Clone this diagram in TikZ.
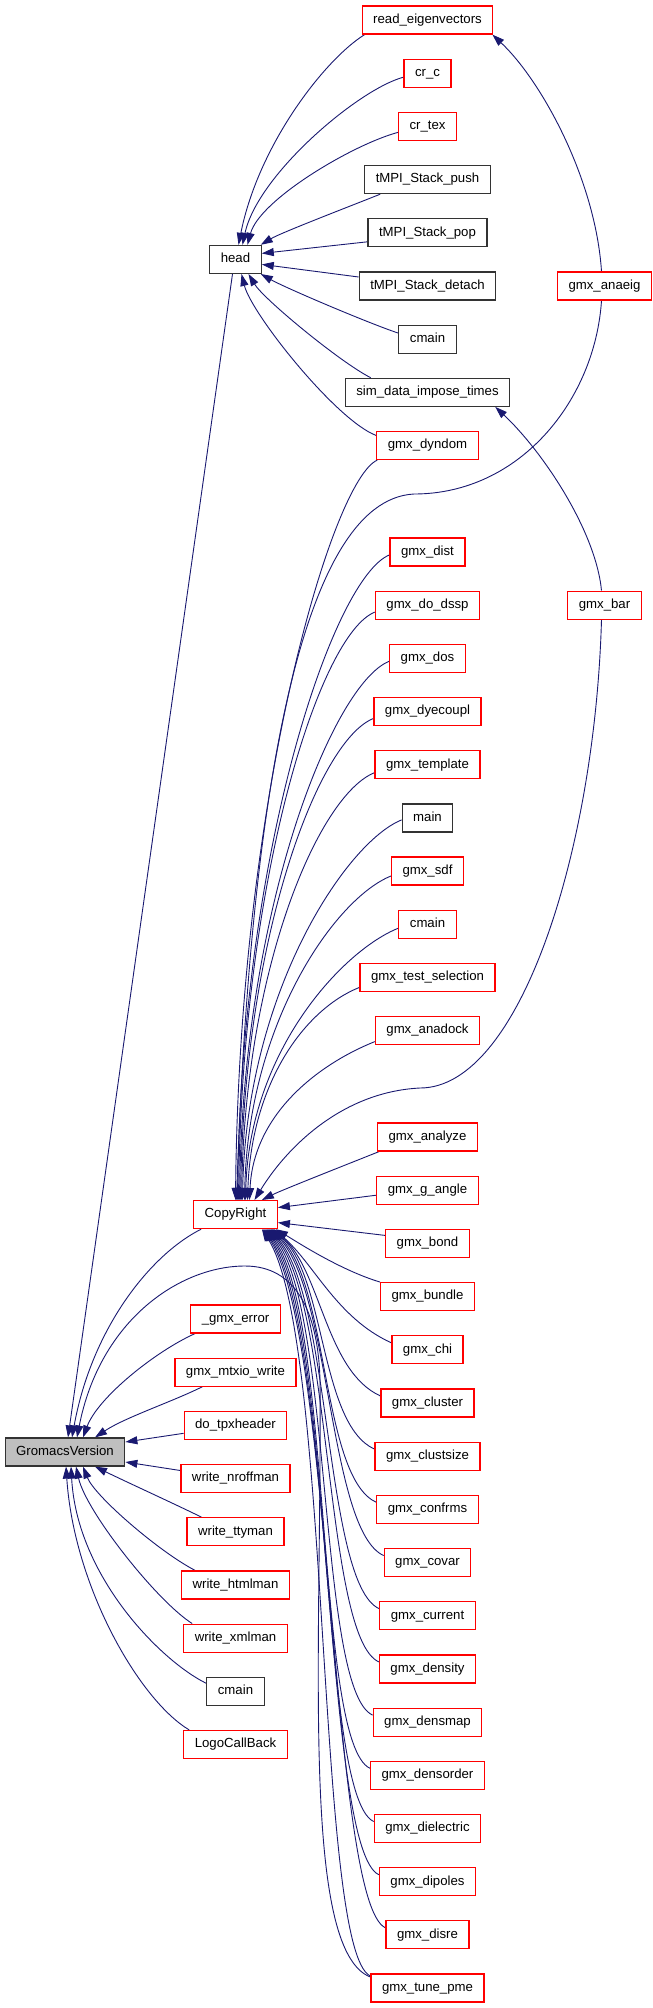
\documentclass[tikz,border=0pt]{standalone}
\usepackage{fontspec}
\setmainfont{Liberation Sans}
\usetikzlibrary{arrows.meta,calc}
\definecolor{edgeblue}{HTML}{191970}
\definecolor{gvfill}{HTML}{BFBFBF}
\pgfdeclarelayer{bg}
\pgfsetlayers{bg,main}
\tikzset{
  fn/.style={rectangle, draw, line width=1.2pt, minimum height=28pt, inner xsep=11pt, inner ysep=0pt, text height=9.4pt, text depth=2.8pt, fill=white},
  rn/.style={fn, draw=red},
  bn/.style={fn, draw=black!80},
  gn/.style={fn, draw=black!80, fill=gvfill},
  cedge/.style={draw=edgeblue, line width=0.9pt, {Triangle[length=12pt,width=8pt]}-}
}
\begin{document}
\begin{tikzpicture}[x=1pt, y=-1pt, font=\fontsize{13.2}{15}\selectfont]
\useasboundingbox (0,0) rectangle (653,2008);
% column 3
\node[rn] (re) at (427.5,20) {read\_eigenvectors};
\node[rn] (crc) at (427.5,73.2) {cr\_c};
\node[rn] (crtex) at (427.5,126.4) {cr\_tex};
\node[bn] (push) at (427.5,179.6) {tMPI\_Stack\_push};
\node[bn] (pop) at (427.5,232.8) {tMPI\_Stack\_pop};
\node[bn] (detach) at (427.5,286) {tMPI\_Stack\_detach};
\node[bn] (cmainA) at (427.5,339.1) {cmain};
\node[bn] (sim) at (427.5,392.3) {sim\_data\_impose\_times};
\node[rn] (dyndom) at (427.5,445.5) {gmx\_dyndom};
\node[rn] (dist) at (427.5,551.9) {gmx\_dist};
\node[rn] (dssp) at (427.5,605.1) {gmx\_do\_dssp};
\node[rn] (dos) at (427.5,658.3) {gmx\_dos};
\node[rn] (dye) at (427.5,711.5) {gmx\_dyecoupl};
\node[rn] (templ) at (427.5,764.7) {gmx\_template};
\node[bn] (mainn) at (427.5,817.9) {main};
\node[rn] (sdf) at (427.5,871) {gmx\_sdf};
\node[rn] (cmainB) at (427.5,924.2) {cmain};
\node[rn] (tsel) at (427.5,977.4) {gmx\_test\_selection};
\node[rn] (anadock) at (427.5,1030.6) {gmx\_anadock};
\node[rn] (analyze) at (427.5,1137) {gmx\_analyze};
\node[rn] (gangle) at (427.5,1190.2) {gmx\_g\_angle};
\node[rn] (bond) at (427.5,1243.4) {gmx\_bond};
\node[rn] (bundle) at (427.5,1296.6) {gmx\_bundle};
\node[rn] (chi) at (427.5,1349.8) {gmx\_chi};
\node[rn] (cluster) at (427.5,1402.9) {gmx\_cluster};
\node[rn] (clustsize) at (427.5,1456.1) {gmx\_clustsize};
\node[rn] (confrms) at (427.5,1509.3) {gmx\_confrms};
\node[rn] (covar) at (427.5,1562.5) {gmx\_covar};
\node[rn] (current) at (427.5,1615.7) {gmx\_current};
\node[rn] (density) at (427.5,1668.9) {gmx\_density};
\node[rn] (densmap) at (427.5,1722.1) {gmx\_densmap};
\node[rn] (densorder) at (427.5,1775.3) {gmx\_densorder};
\node[rn] (dielectric) at (427.5,1828.5) {gmx\_dielectric};
\node[rn] (dipoles) at (427.5,1881.7) {gmx\_dipoles};
\node[rn] (disre) at (427.5,1934.8) {gmx\_disre};
\node[rn] (tunepme) at (427.5,1988) {gmx\_tune\_pme};
% column 2
\node[bn] (head) at (235.5,259.4) {head};
\node[rn] (CR) at (235.5,1214.6) {CopyRight};
\node[rn] (gerr) at (235.5,1318.9) {\_gmx\_error};
\node[rn] (mtxio) at (235.5,1372.1) {gmx\_mtxio\_write};
\node[rn] (tpx) at (235.5,1425.3) {do\_tpxheader};
\node[rn] (nroff) at (235.5,1478.5) {write\_nroffman};
\node[rn] (tty) at (235.5,1531.7) {write\_ttyman};
\node[rn] (html) at (235.5,1584.9) {write\_htmlman};
\node[rn] (xml) at (235.5,1638.1) {write\_xmlman};
\node[bn] (cmainC) at (235.5,1691.3) {cmain};
\node[rn] (logo) at (235.5,1744.5) {LogoCallBack};
% column 1
\node[gn] (GV) at (65,1452) {GromacsVersion};
% column 4
\node[rn] (anaeig) at (604.5,286) {gmx\_anaeig};
\node[rn] (bar) at (604.5,605.1) {gmx\_bar};
% waypoints
\coordinate (wpA) at (414,494);
\coordinate (wpB) at (420,1088);
\coordinate (wpC) at (245,1266);
\coordinate (wpD) at (320,1380);
\begin{pgfonlayer}{bg}
% into head
\draw[cedge] ($(head.north)+(3,0)$) .. controls +(20,-100) and +(-40,25) .. ($(re.south west)+(3,0)$);
\draw[cedge] ($(head.north)+(7,0)$) .. controls +(15,-70) and +(-45,12) .. ($(crc.west)+(0,4)$);
\draw[cedge] ($(head.north)+(12,0)$) .. controls +(12,-45) and +(-45,12) .. ($(crtex.west)+(0,6)$);
\draw[cedge] ($(head.north east)+(-1,0)$) .. controls +(20,-12) and +(-30,12) .. ($(push.south west)+(16,0)$);
\draw[cedge] ($(head.east)+(0,-6)$) -- ($(pop.west)+(0,9)$);
\draw[cedge] ($(head.east)+(0,5)$) -- ($(detach.west)+(0,-9)$);
\draw[cedge] ($(head.south east)+(-1,0)$) .. controls +(25,14) and +(-30,-10) .. ($(cmainA.west)+(0,-6)$);
\draw[cedge] ($(head.south)+(13,0)$) .. controls +(15,25) and +(-30,-15) .. ($(sim.north west)+(26,0)$);
\draw[cedge] ($(head.south)+(6,0)$) .. controls +(10,40) and +(-40,-15) .. ($(dyndom.west)+(0,-10)$);
% col4 to col3
\draw[cedge] ($(re.south east)+(-1,0)$) .. controls +(49,46) and +(-6,-92) .. ($(anaeig.north)+(-3,0)$);
\draw[cedge] ($(sim.south east)+(-15,0)$) .. controls +(46,43) and +(-6,-61) .. ($(bar.north)+(-3,0)$);
% into CopyRight, from above
\draw[cedge] (CR.north) .. controls +(4,-408) and +(-45,20) .. ($(dyndom.south west)+(1,0)$);
\draw[cedge] ($(CR.north)+(1,0)$) .. controls (250,800) and (300,500) .. (wpA) .. controls (520,494) and (595,400) .. ($(anaeig.south)+(-3,0)$);
\foreach \n/\dx/\dy/\h in {dist/2/3/355, dssp/3/7/324, dos/4/3/297, dye/5/7/265, templ/6/8/235, mainn/7/2/209, sdf/9/5/179, cmainB/10/4/150, tsel/12/10/117, anadock/14/11/87}{
  \draw[cedge] ($(CR.north)+(\dx,0)$) .. controls +(4,-\h) and +(-55,22) .. ($(\n.west)+(0,\dy)$);
}
\draw[cedge] ($(CR.north)+(19,0)$) .. controls (285,1150) and (340,1092) .. (wpB) .. controls (520,1088) and (595,850) .. ($(bar.south)+(-3,0)$);
\draw[cedge] ($(CR.north east)+(-16,0)$) .. controls +(20,-10) and +(-30,12) .. ($(analyze.south west)+(2,0)$);
\draw[cedge] ($(CR.east)+(0,-7)$) -- ($(gangle.west)+(0,5)$);
\draw[cedge] ($(CR.east)+(0,8)$) -- ($(bond.west)+(0,-8)$);
% into CopyRight, from below
\draw[cedge] ($(CR.south east)+(-2,0)$) .. controls +(20,12) and +(-40,-12) .. (bundle.north west);
\foreach \n/\dx/\cx/\h in {chi/-4/40/34, cluster/-5/48/40, clustsize/-6/54/46, confrms/-7/58/53, covar/-8/61/59, current/-9/63/66, density/-10/65/72, densmap/-11/66/78, densorder/-12/67/85, dielectric/-13/68/91, dipoles/-14/69/98, disre/-15/70/104}{
  \draw[cedge] ($(CR.south east)+(\dx,0)$) .. controls +(\cx,\h) and +(-55,-25) .. ($(\n.west)+(0,-7)$);
}
\draw[cedge] ($(CR.south east)+(-16,0)$) .. controls +(70,110) and +(-55,-25) .. ($(tunepme.west)+(0,-12)$);
% into GromacsVersion
\draw[cedge] ($(GV.north)+(3,0)$) -- ($(head.south)+(-3,0)$);
\draw[cedge] ($(GV.north)+(7,0)$) .. controls +(20,-110) and +(-50,25) .. ($(CR.south west)+(8,0)$);
\draw[cedge] ($(GV.north)+(12,0)$) .. controls (100,1320) and (180,1266) .. (wpC) .. controls (295,1266) and (318,1310) .. (wpD) .. controls (322,1650) and (300,1950) .. ($(tunepme.west)+(0,-11)$);
\draw[cedge] ($(GV.north)+(18,0)$) .. controls +(15,-40) and +(-40,18) .. ($(gerr.south west)+(5,0)$);
\draw[cedge] ($(GV.north)+(30,0)$) .. controls +(30,-20) and +(-30,15) .. ($(mtxio.south west)+(28,0)$);
\draw[cedge] ($(GV.east)+(0,-10)$) -- ($(tpx.west)+(0,8)$);
\draw[cedge] ($(GV.east)+(0,10)$) -- ($(nroff.west)+(0,-8)$);
\draw[cedge] ($(GV.south)+(30,0)$) .. controls +(35,17) and +(-35,-17) .. ($(tty.north west)+(15,0)$);
\draw[cedge] ($(GV.south)+(18,0)$) .. controls +(12,30) and +(-35,-18) .. ($(html.north west)+(14,0)$);
\draw[cedge] ($(GV.south)+(11,0)$) .. controls +(10,45) and +(-35,-22) .. ($(xml.north west)+(9,0)$);
\draw[cedge] ($(GV.south)+(6,0)$) .. controls +(6,110) and +(-45,-22) .. ($(cmainC.west)+(0,-8)$);
\draw[cedge] ($(GV.south)+(1,0)$) .. controls +(8,120) and +(-50,-30) .. ($(logo.north west)+(6,0)$);
\end{pgfonlayer}
\end{tikzpicture}
\end{document}
